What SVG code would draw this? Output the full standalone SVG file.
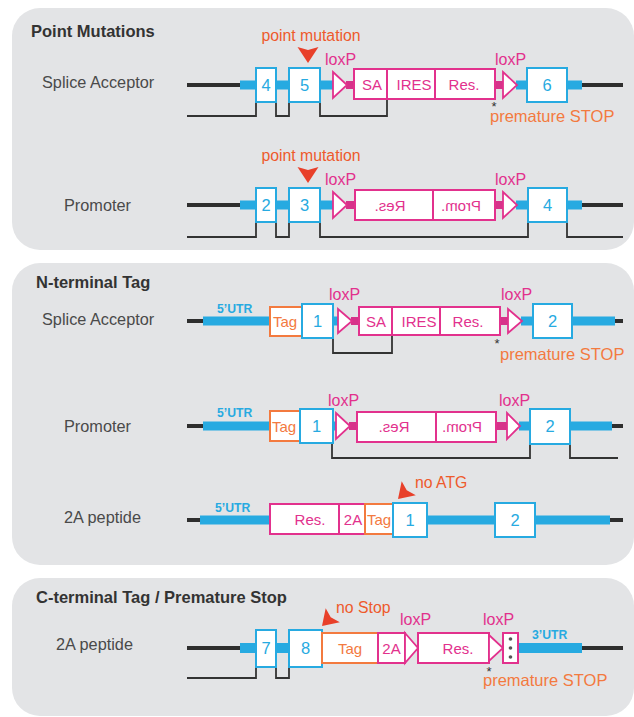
<svg xmlns="http://www.w3.org/2000/svg" width="634" height="717" viewBox="0 0 634 717">
<style>
text{font-family:"Liberation Sans",Arial,Helvetica,sans-serif}
.panel{fill:#e3e4e6}
.title{font-size:16.5px;font-weight:bold;fill:#333}
.lbl{font-size:16.3px;fill:#4a4a4a}
.dna{stroke:#2e2e2e;stroke-width:4}
.utr{fill:#27aae1}
.pbar{fill:#d6338a}
.exon{fill:#fff;stroke:#27aae1;stroke-width:2}
.exn{font-size:16.5px;fill:#27aae1;text-anchor:middle}
.pbox{fill:#fff;stroke:#e2318d;stroke-width:2}
.ptx{font-size:15px;fill:#e2318d;text-anchor:middle}
.tbox{fill:#fff;stroke:#f37a3f;stroke-width:2}
.ttx{font-size:15px;fill:#f37a3f}
.lox{fill:#fff;stroke:#e2318d;stroke-width:1.8;stroke-linejoin:miter}
.loxt{font-size:16px;fill:#e2318d}
.spl{fill:none;stroke:#333;stroke-width:1.8}
.mut{font-size:15.8px;fill:#ee5a2c}
.ah{fill:#e8402a}
.stop{font-size:16.5px;fill:#f37a3f}
.ast{font-size:13px;fill:#333}
.utrt{font-size:12.2px;font-weight:bold;fill:#27aae1}
.dot{fill:#555}
</style>
<defs>
<path id="ah" d="M-10.5,-16 L0,-13 L10.5,-16 L0,0 Z"/>
</defs>

<g id="panels">
<rect id="panel-point" class="panel" x="12" y="8" width="622" height="242" rx="28"/>
<rect id="panel-nterm" class="panel" x="12" y="263" width="622" height="302" rx="28"/>
<rect id="panel-cterm" class="panel" x="12" y="578" width="622" height="138" rx="28"/>
</g>

<g id="titles">
<text class="title" x="31" y="37">Point Mutations</text>
<text class="title" x="36" y="288">N-terminal Tag</text>
<text class="title" x="36" y="603">C-terminal Tag / Premature Stop</text>
</g>

<g id="row-labels">
<text class="lbl" x="42" y="88">Splice Acceptor</text>
<text class="lbl" x="64" y="211">Promoter</text>
<text class="lbl" x="42" y="325">Splice Acceptor</text>
<text class="lbl" x="64" y="432">Promoter</text>
<text class="lbl" x="64" y="523">2A peptide</text>
<text class="lbl" x="56" y="650">2A peptide</text>
</g>

<g id="backbone">
<line class="dna" x1="187" y1="85" x2="242" y2="85"/>
<line class="dna" x1="580" y1="85" x2="623" y2="85"/>
<rect class="utr" x="240" y="80.5" width="93" height="9"/>
<rect class="utr" x="516" y="80.5" width="66" height="9"/>
<rect class="pbar" x="346" y="81" width="9" height="8"/>
<rect class="pbar" x="494" y="81" width="10" height="8"/>

<line class="dna" x1="187" y1="205" x2="242" y2="205"/>
<line class="dna" x1="580" y1="205" x2="623" y2="205"/>
<rect class="utr" x="240" y="200.5" width="93" height="9"/>
<rect class="utr" x="516" y="200.5" width="66" height="9"/>
<rect class="pbar" x="346" y="201" width="10" height="8"/>
<rect class="pbar" x="494" y="201" width="10" height="8"/>

<line class="dna" x1="187" y1="321" x2="205" y2="321"/>
<line class="dna" x1="613" y1="321" x2="623" y2="321"/>
<rect class="utr" x="203" y="316.5" width="68" height="9"/>
<rect class="utr" x="332" y="316.5" width="7" height="9"/>
<rect class="utr" x="521" y="316.5" width="94" height="9"/>
<rect class="pbar" x="351" y="317" width="9" height="8"/>
<rect class="pbar" x="499" y="317" width="10" height="8"/>

<line class="dna" x1="187" y1="426" x2="205" y2="426"/>
<line class="dna" x1="610" y1="426" x2="623" y2="426"/>
<rect class="utr" x="203" y="421.5" width="68" height="9"/>
<rect class="utr" x="332" y="421.5" width="5" height="9"/>
<rect class="utr" x="519" y="421.5" width="93" height="9"/>
<rect class="pbar" x="349" y="422" width="9" height="8"/>
<rect class="pbar" x="495" y="422" width="13" height="8"/>

<line class="dna" x1="187" y1="520" x2="202" y2="520"/>
<line class="dna" x1="608" y1="520" x2="623" y2="520"/>
<rect class="utr" x="200" y="515.5" width="410" height="9"/>

<line class="dna" x1="187" y1="648" x2="242" y2="648"/>
<line class="dna" x1="580" y1="648" x2="623" y2="648"/>
<rect class="utr" x="240" y="643" width="50" height="10"/>
<rect class="utr" x="517" y="643" width="65" height="10"/>
</g>

<g id="connectors">
<path class="spl" d="M187,116 H256 V102 M276,102 V116 H289 V102 M320,102 V116 H387 V99"/>
<path class="spl" d="M187,237 H256 V222 M276,222 V237 H289 V222 M320,222 V237 H528 V222 M567,222 V237 H623"/>
<path class="spl" d="M333,338 V353 H392 V335"/>
<path class="spl" d="M332,443 V458 H530 V444 M570,444 V458 H618"/>
<path class="spl" d="M187,678 H256 V667 M276,667 V678 H289 V667"/>
</g>

<g id="A-exon4"><rect class="exon" x="256" y="68" width="20" height="34"/><text class="exn" x="266" y="91">4</text></g>
<g id="A-exon5"><rect class="exon" x="289" y="68" width="31" height="34"/><text class="exn" x="304.5" y="91">5</text></g>
<g id="A-loxP1"><path class="lox" d="M333,72 L347,85 L333,98 Z"/><text class="loxt" x="325" y="65">loxP</text></g>
<g id="A-SA"><rect class="pbox" x="354" y="69" width="33" height="30"/><text class="ptx" x="372" y="89.5">SA</text></g>
<g id="A-IRES"><rect class="pbox" x="387" y="69" width="48" height="30"/><text class="ptx" x="414" y="89.5">IRES</text></g>
<g id="A-Res"><rect class="pbox" x="435" y="69" width="60" height="30"/><text class="ptx" x="464" y="89.5">Res.</text></g>
<g id="A-loxP2"><path class="lox" d="M503,72 L517,85 L503,98 Z"/><text class="loxt" x="495" y="65">loxP</text></g>
<g id="A-exon6"><rect class="exon" x="527" y="68" width="40" height="34"/><text class="exn" x="547" y="91">6</text></g>
<g id="A-mutation"><text class="mut" x="311" y="41" text-anchor="middle">point mutation</text><use href="#ah" class="ah" transform="translate(308,63)"/></g>
<g id="A-stop"><text class="ast" x="494" y="111" text-anchor="middle">*</text><text class="stop" x="490" y="122">premature STOP</text></g>

<g id="B-exon2"><rect class="exon" x="256" y="188" width="20" height="34"/><text class="exn" x="266" y="211">2</text></g>
<g id="B-exon3"><rect class="exon" x="289" y="188" width="31" height="34"/><text class="exn" x="304.5" y="211">3</text></g>
<g id="B-loxP1"><path class="lox" d="M333,192 L347,205 L333,218 Z"/><text class="loxt" x="325" y="185">loxP</text></g>
<g id="B-Res"><rect class="pbox" x="355" y="190" width="78" height="30"/><text class="ptx" transform="translate(390,0) scale(-1,1)" x="0" y="210.5">Res.</text></g>
<g id="B-Prom"><rect class="pbox" x="433" y="190" width="62" height="30"/><text class="ptx" transform="translate(461,0) scale(-1,1)" x="0" y="210.5">Prom.</text></g>
<g id="B-loxP2"><path class="lox" d="M503,192 L517,205 L503,218 Z"/><text class="loxt" x="495" y="185">loxP</text></g>
<g id="B-exon4"><rect class="exon" x="528" y="188" width="39" height="34"/><text class="exn" x="547.5" y="211">4</text></g>
<g id="B-mutation"><text class="mut" x="311" y="161" text-anchor="middle">point mutation</text><use href="#ah" class="ah" transform="translate(308,183)"/></g>

<g id="C-utr"><text class="utrt" x="217" y="313">5’UTR</text></g>
<g id="C-Tag"><rect class="tbox" x="270" y="307" width="32" height="29"/><text class="ttx" x="273" y="327">Tag</text></g>
<g id="C-exon1"><rect class="exon" x="302" y="304" width="31" height="34"/><text class="exn" x="317.5" y="327">1</text></g>
<g id="C-loxP1"><path class="lox" d="M338,309 L352,321 L338,333 Z"/><text class="loxt" x="329" y="300">loxP</text></g>
<g id="C-SA"><rect class="pbox" x="359" y="307" width="33" height="28"/><text class="ptx" x="376" y="326.5">SA</text></g>
<g id="C-IRES"><rect class="pbox" x="392" y="307" width="48" height="28"/><text class="ptx" x="419" y="326.5">IRES</text></g>
<g id="C-Res"><rect class="pbox" x="440" y="307" width="60" height="28"/><text class="ptx" x="468" y="326.5">Res.</text></g>
<g id="C-loxP2"><path class="lox" d="M508,309 L522,321 L508,333 Z"/><text class="loxt" x="501" y="300">loxP</text></g>
<g id="C-exon2"><rect class="exon" x="533" y="304" width="39" height="34"/><text class="exn" x="552.5" y="327">2</text></g>
<g id="C-stop"><text class="ast" x="497" y="348" text-anchor="middle">*</text><text class="stop" x="500" y="360">premature STOP</text></g>

<g id="D-utr"><text class="utrt" x="217" y="417">5’UTR</text></g>
<g id="D-Tag"><rect class="tbox" x="270" y="411" width="30" height="30"/><text class="ttx" x="272" y="431.5">Tag</text></g>
<g id="D-exon1"><rect class="exon" x="300" y="409" width="33" height="34"/><text class="exn" x="316.5" y="432">1</text></g>
<g id="D-loxP1"><path class="lox" d="M336,413 L350,426 L336,439 Z"/><text class="loxt" x="328" y="406">loxP</text></g>
<g id="D-Res"><rect class="pbox" x="357" y="412" width="79" height="30"/><text class="ptx" transform="translate(394,0) scale(-1,1)" x="0" y="432">Res.</text></g>
<g id="D-Prom"><rect class="pbox" x="436" y="412" width="60" height="30"/><text class="ptx" transform="translate(462,0) scale(-1,1)" x="0" y="432">Prom.</text></g>
<g id="D-loxP2"><path class="lox" d="M507,413 L520,426 L507,439 Z"/><text class="loxt" x="499" y="406">loxP</text></g>
<g id="D-exon2"><rect class="exon" x="530" y="409" width="40" height="35"/><text class="exn" x="550" y="432">2</text></g>

<g id="E-utr"><text class="utrt" x="215" y="512">5’UTR</text></g>
<g id="E-Res"><rect class="pbox" x="270" y="504" width="69" height="30"/><text class="ptx" x="310" y="525">Res.</text></g>
<g id="E-2A"><rect class="pbox" x="339" y="504" width="26" height="30"/><text class="ptx" x="353" y="525">2A</text></g>
<g id="E-Tag"><rect class="tbox" x="365" y="504" width="28" height="30"/><text class="ttx" x="367" y="525">Tag</text></g>
<g id="E-exon1"><rect class="exon" x="393" y="503" width="34" height="34"/><text class="exn" x="410" y="526">1</text></g>
<g id="E-exon2"><rect class="exon" x="495" y="503" width="40" height="34"/><text class="exn" x="515" y="526">2</text></g>
<g id="E-noATG"><use href="#ah" class="ah" transform="translate(398,499) rotate(45) scale(0.95)"/><text class="mut" x="415" y="488" font-size="14">no ATG</text></g>

<g id="F-exon7"><rect class="exon" x="256" y="630" width="20" height="37"/><text class="exn" x="266" y="654">7</text></g>
<g id="F-exon8"><rect class="exon" x="289" y="630" width="33" height="37"/><text class="exn" x="305.5" y="654">8</text></g>
<g id="F-Tag"><rect class="tbox" x="322" y="633" width="56" height="30"/><text class="ttx" x="350" y="654" text-anchor="middle">Tag</text></g>
<g id="F-2A"><rect class="pbox" x="378" y="633" width="27" height="30"/><text class="ptx" x="391.5" y="654">2A</text></g>
<g id="F-loxP1"><path class="lox" d="M405,633 L418,648 L405,663 Z"/><text class="loxt" x="400" y="625">loxP</text></g>
<g id="F-Res"><rect class="pbox" x="418" y="633" width="71" height="30"/><text class="ptx" x="458" y="654">Res.</text></g>
<g id="F-loxP2"><path class="lox" d="M489,635 L503,648 L489,661 Z"/><text class="loxt" x="483" y="625">loxP</text></g>
<g id="F-stops"><rect class="pbox" x="503" y="633" width="15" height="30"/><circle class="dot" cx="510.5" cy="639" r="1.8"/><circle class="dot" cx="510.5" cy="648" r="1.8"/><circle class="dot" cx="510.5" cy="657" r="1.8"/></g>
<g id="F-utr"><text class="utrt" x="532" y="639" font-size="13.5">3’UTR</text></g>
<g id="F-noStop"><use href="#ah" class="ah" transform="translate(322,626) rotate(45) scale(0.95)"/><text class="mut" x="336" y="613">no Stop</text></g>
<g id="F-stop"><text class="ast" x="489" y="676" text-anchor="middle">*</text><text class="stop" x="483" y="686">premature STOP</text></g>
</svg>
